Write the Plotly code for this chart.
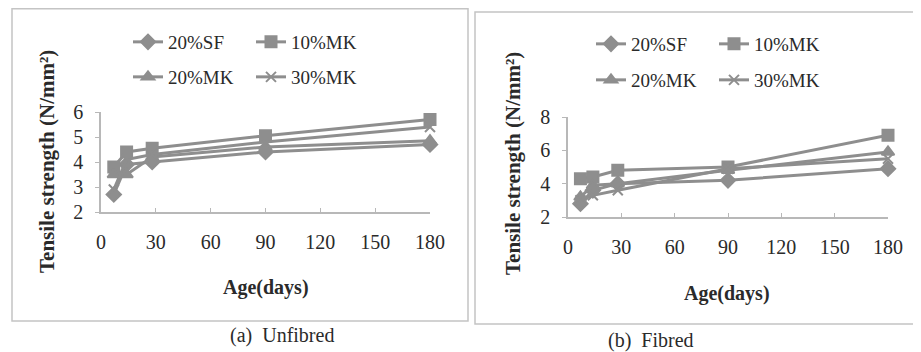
import plotly.graph_objects as go

W, H = 921, 352

# ---- data ----
days = [7, 14, 28, 90, 180]
series_names = ["20%SF", "10%MK", "20%MK", "30%MK"]

unfibred_sf = [2.7, 3.9, 4.0, 4.4, 4.7]
unfibred_mk10 = [3.8, 4.4, 4.55, 5.05, 5.7]
unfibred_mk20 = [3.5, 3.5, 4.2, 4.6, 4.85]
unfibred_mk30 = [2.9, 4.1, 4.3, 4.8, 5.4]

fibred_sf = [2.8, 3.6, 4.0, 4.2, 4.9]
fibred_mk10 = [4.3, 4.4, 4.8, 5.0, 6.9]
fibred_mk20 = [3.2, 3.9, 4.0, 4.8, 5.9]
fibred_mk30 = [3.0, 3.3, 3.6, 4.9, 5.5]

x_ticks = [0, 30, 60, 90, 120, 150, 180]
y_ticks_left = [2, 3, 4, 5, 6]
y_ticks_right = [2, 4, 6, 8]

# ---- styling ----
GRAY = "#8e8e8e"
AXIS = "#b8b8b8"
TXT = "#2a2a2a"
FONT = "Liberation Serif"
symbols = ["diamond", "square", "triangle-up", "x-thin"]

OFF = 8  # page body margin offset


def px(x):
    return (x - OFF) / W


def py(y):
    return 1 - (y - OFF) / H


fig = go.Figure()

panels = [
    ([unfibred_sf, unfibred_mk10, unfibred_mk20, unfibred_mk30], "x", "y", ("legend", "legend2")),
    ([fibred_sf, fibred_mk10, fibred_mk20, fibred_mk30], "x2", "y2", ("legend3", "legend4")),
]

for vals, xa, ya, legs in panels:
    for i, (name, v) in enumerate(zip(series_names, vals)):
        sym = symbols[i]
        marker = dict(symbol=sym, size=11 if sym != "x-thin" else 10, color=GRAY,
                      line=dict(color=GRAY, width=2))
        fig.add_trace(go.Scatter(
            x=days, y=v, name=name, mode="lines+markers",
            line=dict(color=GRAY, width=3), marker=marker,
            xaxis=xa, yaxis=ya, cliponaxis=False,
            legend=legs[0] if i < 2 else legs[1],
        ))

axis_common = dict(showgrid=False, zeroline=False, showline=True, linecolor=AXIS,
                   linewidth=1.5, tickcolor=AXIS, ticklen=4,
                   tickfont=dict(family=FONT, size=20, color=TXT))

fig.update_layout(
    width=W, height=H,
    margin=dict(l=0, r=0, t=0, b=0, autoexpand=False),
    paper_bgcolor="white", plot_bgcolor="white",
    xaxis=dict(domain=[px(101), px(430)], range=[0, 180], tickvals=x_ticks,
               ticks="inside", ticklabelstandoff=11, anchor="y", **axis_common),
    yaxis=dict(domain=[py(212), py(112)], range=[2, 6], tickvals=y_ticks_left,
               ticks="outside", ticklabelstandoff=8, anchor="x", **axis_common),
    xaxis2=dict(domain=[px(568), px(888)], range=[0, 180], tickvals=x_ticks,
                ticks="inside", ticklabelstandoff=11, anchor="y2", **axis_common),
    yaxis2=dict(domain=[py(217), py(117)], range=[2, 8], tickvals=y_ticks_right,
                ticks="outside", ticklabelstandoff=8, anchor="x2", **axis_common),
    showlegend=True,
)

leg_common = dict(orientation="h", entrywidth=78, entrywidthmode="pixels",
                  xanchor="left", yanchor="middle", bgcolor="rgba(0,0,0,0)",
                  font=dict(family=FONT, size=19, color=TXT), itemwidth=30,
                  traceorder="normal")
fig.update_layout(
    legend=dict(x=px(128), y=py(42), **leg_common),
    legend2=dict(x=px(128), y=py(77), **leg_common),
    legend3=dict(x=px(591), y=py(44), **leg_common),
    legend4=dict(x=px(591), y=py(80), **leg_common),
)

ann = []
ann.append(dict(text="<b>Tensile strength (N/mm²)</b>", x=px(47), y=py(162), textangle=-90,
                font=dict(family=FONT, size=21, color=TXT)))
ann.append(dict(text="<b>Tensile strength (N/mm²)</b>", x=px(513), y=py(164), textangle=-90,
                font=dict(family=FONT, size=21, color=TXT)))
title_font = dict(family=FONT, size=20, color=TXT)
ann.append(dict(text="<b>Age(days)</b>", x=px(266), y=py(287), font=title_font))
ann.append(dict(text="<b>Age(days)</b>", x=px(727), y=py(293), font=title_font))
cap_font = dict(family=FONT, size=20, color=TXT)
ann.append(dict(text="(a)  Unfibred", x=px(282), y=py(335), font=cap_font))
ann.append(dict(text="(b)  Fibred", x=px(651), y=py(340), font=cap_font))
for a in ann:
    a.setdefault("xanchor", "center")
    a.setdefault("yanchor", "middle")
    a.update(xref="paper", yref="paper", showarrow=False)
fig.update_layout(annotations=ann)

shapes = [
    dict(type="rect", x0=px(12), y0=py(321), x1=px(468), y1=py(8.8)),
    dict(type="rect", x0=px(475), y0=py(324), x1=px(935), y1=py(12)),
]
for s in shapes:
    s.update(xref="paper", yref="paper", line=dict(color="#c4c4c4", width=1.5),
             fillcolor="rgba(0,0,0,0)", layer="below")
fig.update_layout(shapes=shapes)

fig.write_html("out.html")
